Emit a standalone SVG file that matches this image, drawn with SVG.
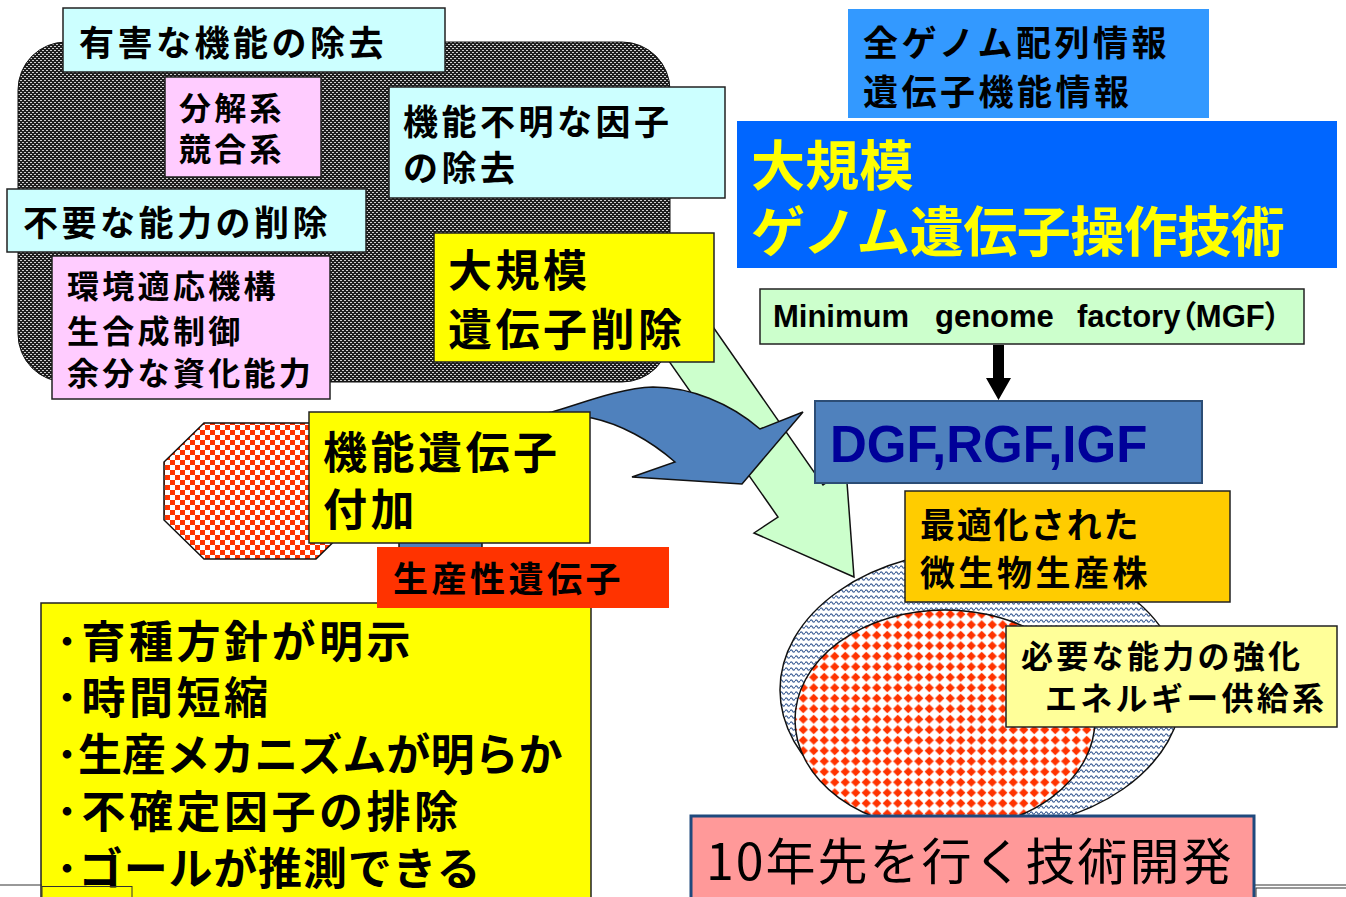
<svg xmlns="http://www.w3.org/2000/svg" width="1346" height="897" viewBox="0 0 1346 897">
<defs>
<pattern id="darkpat" patternUnits="userSpaceOnUse" width="4" height="4">
<rect width="4" height="4" fill="#1e1e1e"/>
<rect x="0" y="0" width="2" height="1" fill="#cfcfcf"/>
<rect x="2" y="2" width="2" height="1" fill="#cfcfcf"/>
</pattern>
<pattern id="checker" patternUnits="userSpaceOnUse" width="10" height="10">
<rect width="10" height="10" fill="#ffffff"/>
<rect x="0" y="0" width="5" height="5" fill="#ff3300"/>
<rect x="5" y="5" width="5" height="5" fill="#ff3300"/>
</pattern>
<pattern id="diamond" patternUnits="userSpaceOnUse" width="10.5" height="10.5">
<rect width="10.5" height="10.5" fill="#ffffff"/>
<polygon points="5.25,0.6 9.9,5.25 5.25,9.9 0.6,5.25" fill="#ff3300"/>
</pattern>
<pattern id="wave" patternUnits="userSpaceOnUse" width="5" height="6">
<rect width="5" height="6" fill="#ffffff"/>
<path d="M0,3 Q1.25,0.6 2.5,3 T5,3" fill="none" stroke="#3d5f96" stroke-width="1.2"/>
</pattern>
</defs>
<style>
.jp{font-family:"Noto Sans CJK JP","Noto Sans CJK SC",sans-serif;font-weight:bold;fill:#000}
.f34{font-size:35px;letter-spacing:3.5px}
.f31{font-size:32px;letter-spacing:3.3px}
.f41{font-size:44px;letter-spacing:3.5px}
.f53{font-size:54px;letter-spacing:0.3px}
.box{stroke:#222;stroke-width:1.5}
.cyan{fill:#ccffff}
.pink{fill:#ffccff}
.yel{fill:#ffff00}
.en{font-family:"Liberation Sans","Noto Sans CJK JP",sans-serif;font-weight:bold}
</style>

<g id="genome-bg">
<rect x="18" y="42" width="652" height="340" rx="48" ry="48" fill="url(#darkpat)" stroke="#111" stroke-width="1"/>
</g>

<g id="connectors">
<polygon id="green-arrow" points="658.5,248.5 823,485 846,469 854,577 754,533 778,517 612.5,280.5" fill="#ccffcc" stroke="#111" stroke-width="1.5"/>
</g>

<g id="harmful">
<rect class="box cyan" x="63" y="8" width="382" height="64"/>
<text class="jp f34" x="79" y="56">有害な機能の除去</text>
</g>
<g id="decomp">
<rect class="box pink" x="165" y="77" width="156" height="100"/>
<text class="jp f31" x="179" y="120">分解系</text>
<text class="jp f31" x="179" y="161">競合系</text>
</g>
<g id="unknown">
<rect class="box cyan" x="389" y="87" width="336" height="111"/>
<text class="jp f34" x="403" y="135">機能不明な因子</text>
<text class="jp f34" x="403" y="181">の除去</text>
</g>
<g id="unneeded">
<rect class="box cyan" x="7" y="189" width="359" height="63"/>
<text class="jp f34" x="23" y="236">不要な能力の削除</text>
</g>
<g id="env">
<rect class="box pink" x="52" y="256" width="278" height="143"/>
<text class="jp f31" x="67" y="298">環境適応機構</text>
<text class="jp f31" x="67" y="343">生合成制御</text>
<text class="jp f31" x="67" y="385">余分な資化能力</text>
</g>
<g id="deletion">
<rect class="box yel" x="434" y="233" width="280" height="129"/>
<text class="jp f41" x="448" y="287">大規模</text>
<text class="jp f41" x="448" y="346">遺伝子削除</text>
</g>

<g id="octagon">
<polygon points="204,423 316,423 356,462 356,520 316,559 204,559 164,520 164,462" fill="url(#checker)" stroke="#111" stroke-width="1.5"/>
</g>

<g id="connectors-blue">
<path id="blue-arrow" d="M399,560 L399,540 C405,470 480,425 552,412 C580,404 620,388 653,387 C690,387 730,403 760,429 L803,412 L742,484 L632,477 L675,462 C650,440 620,424 592,418 C530,410 482,470 482,540 L482,560 Z" fill="#4f81bd" stroke="#111" stroke-width="1.5" stroke-linejoin="miter"/>
</g>

<g id="add-gene">
<rect class="box yel" x="309" y="412" width="281" height="131"/>
<text class="jp f41" x="323" y="469">機能遺伝子</text>
<text class="jp f41" x="323" y="526">付加</text>
</g>

<g id="merits">
<rect class="box yel" x="41" y="603" width="550" height="300"/>
<text class="jp f41" x="56" y="658">･育種方針が明示</text>
<text class="jp f41" x="56" y="714">･時間短縮</text>
<text class="jp f41" x="56" y="771" textLength="510" lengthAdjust="spacing">･生産メカニズムが明らか</text>
<text class="jp f41" x="56" y="828">･不確定因子の排除</text>
<text class="jp f41" x="56" y="885" textLength="428" lengthAdjust="spacing">･ゴールが推測できる</text>
</g>

<g id="productivity">
<rect x="377" y="547" width="292" height="61" fill="#ff3300"/>
<text class="jp f34" x="393" y="592">生産性遺伝子</text>
</g>

<g id="info">
<rect x="848" y="9" width="361" height="109" fill="#3399ff"/>
<text class="jp f34" x="863" y="56">全ゲノム配列情報</text>
<text class="jp f34" x="863" y="105">遺伝子機能情報</text>
</g>
<g id="tech">
<rect x="737" y="121" width="600" height="147" fill="#0066ff"/>
<text class="jp f53" x="751" y="186" style="fill:#ffff00">大規模</text>
<text class="jp f53" x="751" y="252" style="fill:#ffff00" textLength="534" lengthAdjust="spacing">ゲノム遺伝子操作技術</text>
</g>
<g id="mgf">
<rect class="box" x="760" y="289" width="544" height="55" fill="#ccffcc"/>
<text class="en" font-size="31" y="327" style="font-feature-settings:'palt'"><tspan x="773">Minimum</tspan><tspan x="935">genome</tspan><tspan x="1077">factory（MGF）</tspan></text>
</g>

<g id="connectors-black">
<polygon id="mgf-arrow" points="993,345 1004,345 1004,378 1011,378 998.5,400 986,378 993,378" fill="#000"/>
</g>

<g id="dgf">
<rect x="815" y="401" width="387" height="82" fill="#4f81bd" stroke="#2c4d75" stroke-width="2"/>
<text class="en" font-size="51" x="830" y="462" fill="#000099">DGF,RGF,IGF</text>
</g>

<g id="cell">
<ellipse cx="981" cy="690" rx="201" ry="140" fill="url(#wave)" stroke="#111" stroke-width="1.5"/>
<ellipse cx="945" cy="720" rx="150" ry="110" fill="url(#diamond)" stroke="#111" stroke-width="1.5"/>
</g>

<g id="optimized">
<rect class="box" x="905" y="491" width="325" height="111" fill="#ffcc00"/>
<text class="jp f34" x="920" y="538" textLength="222" lengthAdjust="spacing">最適化された</text>
<text class="jp f34" x="920" y="586">微生物生産株</text>
</g>
<g id="enhance">
<rect class="box" x="1006" y="626" width="331" height="101" fill="#ffff99"/>
<text class="jp f31" x="1021" y="668">必要な能力の強化</text>
<text class="jp f31" x="1045" y="710">エネルギー供給系</text>
</g>
<g id="future">
<rect x="691" y="816" width="563" height="90" fill="#ff9999" stroke="#1f497d" stroke-width="3"/>
<text x="706" y="880" style="font-family:'Noto Sans CJK JP',sans-serif;font-size:50px;letter-spacing:2px;fill:#000">10年先を行く技術開発</text>
</g>

<g id="footer">
<line x1="0" y1="885" x2="42" y2="885" stroke="#333" stroke-width="1"/>
<rect x="42" y="886.5" width="90" height="20" fill="none" stroke="#333" stroke-width="1"/>
<line x1="1255" y1="885" x2="1346" y2="885" stroke="#333" stroke-width="1"/>
<rect x="1256" y="888" width="100" height="20" fill="none" stroke="#333" stroke-width="1"/>
</g>
</svg>
